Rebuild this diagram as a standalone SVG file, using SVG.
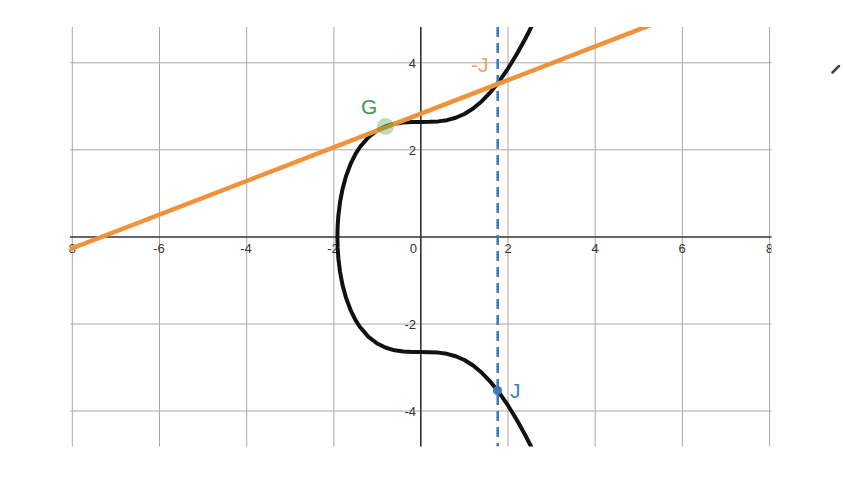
<svg xmlns="http://www.w3.org/2000/svg" width="843" height="488" viewBox="0 0 843 488">
<style>
.grid{stroke:#a8a8a8;stroke-width:1;fill:none}
.axis{stroke:#333;stroke-width:1.6;fill:none}
.tick{font-family:"Liberation Sans",Arial,sans-serif;font-size:13px;fill:#333}
.lbl{font-family:"Liberation Sans",Arial,sans-serif;font-size:21px}
</style>
<defs>
<clipPath id="plot"><rect x="70" y="27" width="701.5" height="419.5"/></clipPath>
<clipPath id="lab"><rect x="68.5" y="0" width="703" height="488"/></clipPath>
</defs>
<rect width="843" height="488" fill="#fff"/>
<g id="grid" class="grid">
<path d="M72.3,27V446.5M159.5,27V446.5M246.7,27V446.5M333.9,27V446.5M508,27V446.5M595.2,27V446.5M682.4,27V446.5M769.6,27V446.5"/>
<path d="M70,62.8H771.5M70,149.8H771.5M70,324H771.5M70,411H771.5"/>
</g>
<g id="axes" class="axis">
<path d="M70,237H771.5M420.8,27V446.5"/>
</g>
<g id="ticks" class="tick" clip-path="url(#lab)">
<text x="76" y="253" text-anchor="end">-8</text>
<text x="159" y="253" text-anchor="middle">-6</text>
<text x="246" y="253" text-anchor="middle">-4</text>
<text x="333" y="253" text-anchor="middle">-2</text>
<text x="417" y="253" text-anchor="end">0</text>
<text x="508" y="253" text-anchor="middle">2</text>
<text x="595" y="253" text-anchor="middle">4</text>
<text x="682" y="253" text-anchor="middle">6</text>
<text x="769.5" y="253" text-anchor="middle">8</text>
<text x="416" y="67.5" text-anchor="end">4</text>
<text x="416" y="154.5" text-anchor="end">2</text>
<text x="416" y="328.5" text-anchor="end">-2</text>
<text x="416" y="415.5" text-anchor="end">-4</text>
</g>
<g clip-path="url(#plot)">
<g id="curve">
<path fill="none" stroke="#111" stroke-width="4" stroke-linejoin="round" d="M534.16,21.37 L525.44,38.51 516.72,54.26 508,68.52 499.28,81.18 490.56,92.1 481.84,101.19 473.12,108.5 464.4,113.98 455.68,117.77 446.96,120.16 438.24,121.38 429.52,121.86 420.8,121.91 412.08,121.99 403.36,122.42 394.64,123.68 385.92,126.21 377.2,130.47 368.48,137.12 359.76,147.26 355.4,154.18 350.97,163.05 346.05,176.1 342.5,189.15 340.02,202.2 338.4,215.25 337.65,226.12 337.4,237 337.65,247.88 338.4,258.75 340.02,271.8 342.5,284.85 346.05,297.9 350.97,310.95 355.4,319.82 359.76,326.74 368.48,336.88 377.2,343.53 385.92,347.79 394.64,350.32 403.36,351.58 412.08,352.01 420.8,352.09 429.52,352.14 438.24,352.62 446.96,353.84 455.68,356.23 464.4,360.02 473.12,365.5 481.84,372.81 490.56,381.9 499.28,392.82 508,405.48 516.72,419.74 525.44,435.49 534.16,452.63"/>
</g>
<g id="connectors">
<line id="vertical" x1="497.7" y1="27" x2="497.7" y2="446.5" stroke="#3a78b5" stroke-width="2.5" stroke-dasharray="10 6"/>
<line id="tangent" x1="66" y1="250.6" x2="660" y2="21.4" stroke="#f0923a" stroke-width="4.5"/>
</g>
</g>
<g id="nodeG">
<circle cx="385.5" cy="126.5" r="8.5" fill="#3c9b48" fill-opacity="0.35"/>
<text class="lbl" x="361" y="113.5" fill="#3c9b48">G</text>
</g>
<g id="nodeNegJ">
<text class="lbl" x="471" y="71.5" fill="#eba45c">-J</text>
</g>
<g id="nodeJ">
<circle cx="497.5" cy="390.5" r="4.5" fill="#3a78b5"/>
<text class="lbl" x="510" y="398" fill="#3f80c0">J</text>
</g>
<g id="pen">
<line x1="832.5" y1="72.5" x2="839" y2="66" stroke="#444" stroke-width="2.5" stroke-linecap="round"/>
</g>
</svg>
